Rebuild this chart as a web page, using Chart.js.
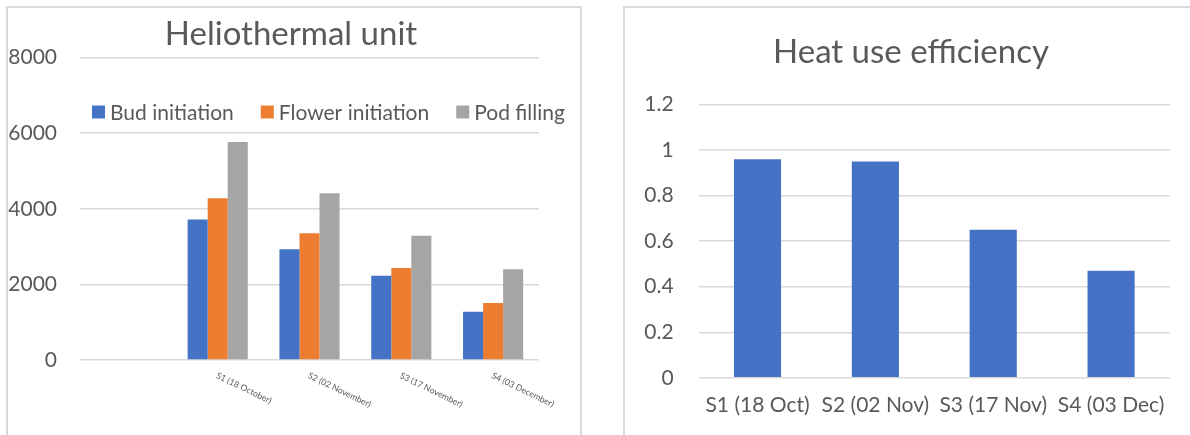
<!DOCTYPE html>
<html>
<head>
<meta charset="utf-8">
<script src="https://cdn.jsdelivr.net/npm/chart.js@4.4.1/dist/chart.umd.min.js"></script>
<style>
  html, body { margin: 0; padding: 0; background: #ffffff; width: 1190px; height: 435px; overflow: hidden; }
  .panel { position: absolute; border: 2px solid #d9d9d9; box-sizing: border-box; }
  .wrap { position: absolute; }
</style>
</head>
<body>
<div class="panel" style="left:6px; top:6px; width:576px; height:440px;"></div>
<div class="panel" style="left:623px; top:6px; width:580px; height:440px;"></div>
<div class="wrap" style="left:0px; top:0px; width:582px; height:435px;"><canvas id="c1"></canvas></div>
<div class="wrap" style="left:632px; top:0px; width:558px; height:435px;"><canvas id="c2"></canvas></div>
<script>
// ---- Data: Heliothermal unit ----
const huCategories = ['', 'S1 (18 October)', 'S2 (02 November)', 'S3 (17 November)', 'S4 (03 December)'];
const budInitiation = [null, 3720, 2930, 2230, 1275];
const flowerInitiation = [null, 4280, 3355, 2435, 1505];
const podFilling = [null, 5765, 4410, 3285, 2400];
const huTicks = [0, 2000, 4000, 6000, 8000];

// ---- Data: Heat use efficiency ----
const hueCategories = ['S1 (18 Oct)', 'S2 (02 Nov)', 'S3 (17 Nov)', 'S4 (03 Dec)'];
const hueValues = [0.96, 0.95, 0.65, 0.47];
const hueTicks = [0, 0.2, 0.4, 0.6, 0.8, 1, 1.2];

const TEXT = '#595959';
const GRID = '#d9d9d9';
const FONT = 'Lato';

const rotatedLabels = {
  id: 'rotatedLabels',
  afterDraw(chart) {
    const xs = chart.scales.x;
    const ctx = chart.ctx;
    ctx.save();
    ctx.fillStyle = TEXT;
    ctx.font = '8.7px ' + FONT;
    ctx.textAlign = 'left';
    ctx.textBaseline = 'top';
    chart.data.labels.forEach((lab, i) => {
      if (!lab) return;
      const x = xs.getPixelForValue(i);
      const y = chart.chartArea.bottom + 11;
      ctx.save();
      ctx.translate(x + 1, y);
      ctx.rotate(26 * Math.PI / 180);
      ctx.fillText(lab, 0, 0);
      ctx.restore();
    });
    ctx.restore();
  }
};

const innerLegend = {
  id: 'innerLegend',
  afterDraw(chart) {
    const ctx = chart.ctx;
    ctx.save();
    ctx.font = '21px ' + FONT;
    ctx.textBaseline = 'middle';
    ctx.textAlign = 'left';
    let x = 92;
    const y = 112;
    chart.data.datasets.forEach(ds => {
      ctx.fillStyle = ds.backgroundColor;
      ctx.fillRect(x, y - 6.5, 13, 13);
      x += 18;
      ctx.fillStyle = TEXT;
      ctx.fillText(ds.label, x, y + 1);
      x += ctx.measureText(ds.label).width + 27;
    });
    ctx.restore();
  }
};

function spacerAxis(width) {
  return {
    type: 'linear',
    position: 'right',
    display: true,
    afterFit: s => { s.width = width; },
    grid: { display: false, drawTicks: false },
    border: { display: false },
    ticks: { display: false }
  };
}

function build() {
  Chart.defaults.font.family = FONT;
  Chart.defaults.color = TEXT;

  new Chart(document.getElementById('c1'), {
    type: 'bar',
    data: {
      labels: huCategories,
      datasets: [
        { label: 'Bud initiation', data: budInitiation, backgroundColor: '#4472C4' },
        { label: 'Flower initiation', data: flowerInitiation, backgroundColor: '#ED7D31' },
        { label: 'Pod filling', data: podFilling, backgroundColor: '#A5A5A5' }
      ]
    },
    options: {
      responsive: true,
      maintainAspectRatio: false,
      animation: false,
      layout: { padding: { left: 0, right: 0, top: 0, bottom: 75 } },
      datasets: { bar: { barPercentage: 1, categoryPercentage: 0.655 } },
      plugins: {
        legend: { display: false },
        tooltip: { enabled: false },
        title: {
          display: true,
          text: 'Heliothermal unit',
          color: TEXT,
          font: { family: FONT, size: 33, weight: 'normal' },
          padding: { top: 15, bottom: 3 }
        }
      },
      scales: {
        x: {
          grid: { display: false, drawTicks: false },
          border: { display: false },
          ticks: { display: false }
        },
        y: {
          min: 0, max: 8000,
          afterFit: s => { s.width = 80; },
          afterBuildTicks: s => { s.ticks = huTicks.map(v => ({ value: v })); },
          grid: { color: GRID, lineWidth: 1.5, drawTicks: false },
          border: { display: false },
          ticks: { padding: 23, color: TEXT, font: { family: FONT, size: 21 }, callback: v => String(v) }
        },
        spacer: spacerAxis(43)
      }
    },
    plugins: [rotatedLabels, innerLegend]
  });

  new Chart(document.getElementById('c2'), {
    type: 'bar',
    data: {
      labels: hueCategories,
      datasets: [
        { label: 'Heat use efficiency', data: hueValues, backgroundColor: '#4472C4' }
      ]
    },
    options: {
      responsive: true,
      maintainAspectRatio: false,
      animation: false,
      layout: { padding: { left: 0, right: 0, top: 0, bottom: 2 } },
      datasets: { bar: { barPercentage: 0.4, categoryPercentage: 1 } },
      plugins: {
        legend: { display: false },
        tooltip: { enabled: false },
        title: {
          display: true,
          text: 'Heat use efficiency',
          color: TEXT,
          font: { family: FONT, size: 33, weight: 'normal' },
          padding: { top: 33, bottom: 32 }
        }
      },
      scales: {
        x: {
          grid: { display: false, drawTicks: false },
          border: { display: false },
          ticks: { padding: 15, color: TEXT, maxRotation: 0, autoSkip: false, font: { family: FONT, size: 21 } }
        },
        y: {
          min: 0, max: 1.2,
          afterFit: s => { s.width = 66.6; },
          afterBuildTicks: s => { s.ticks = hueTicks.map(v => ({ value: v })); },
          grid: { color: GRID, lineWidth: 1.5, drawTicks: false },
          border: { display: false },
          ticks: { padding: 25, color: TEXT, font: { family: FONT, size: 21 }, callback: v => String(v) }
        },
        spacer: spacerAxis(20)
      }
    }
  });
}

if (document.fonts && document.fonts.load) {
  Promise.all([document.fonts.load('21px Lato'), document.fonts.load('33px Lato')]).then(build, build);
} else {
  build();
}
</script>
</body>
</html>
